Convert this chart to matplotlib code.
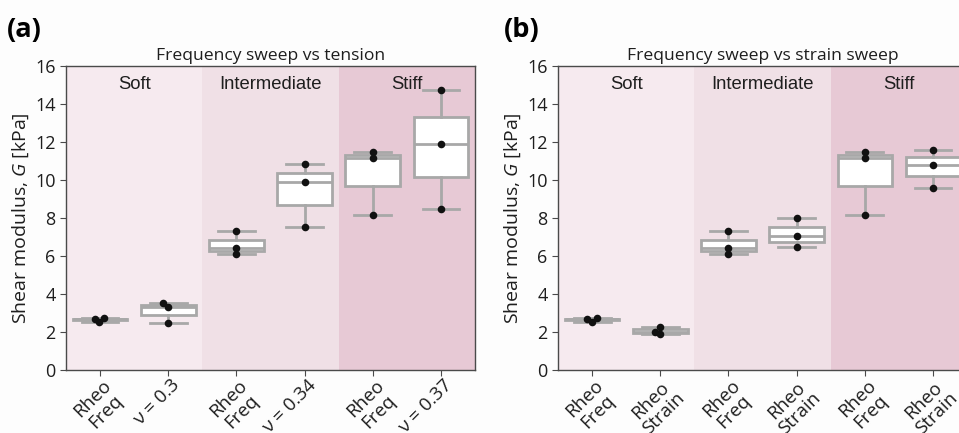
import numpy as np
import matplotlib
matplotlib.use("Agg")
import matplotlib.pyplot as plt
from matplotlib.transforms import ScaledTranslation

# ---------------------------------------------------------------------------
# Data — shear modulus G [kPa], three samples per group
# ---------------------------------------------------------------------------

REGIONS = ["Soft", "Intermediate", "Stiff"]

LABELS_A = ["Rheo\nFreq", "ν = 0.3", "Rheo\nFreq", "ν = 0.34", "Rheo\nFreq", "ν = 0.37"]
LABELS_B = ["Rheo\nFreq", "Rheo\nStrain", "Rheo\nFreq", "Rheo\nStrain", "Rheo\nFreq", "Rheo\nStrain"]

RHEO_FREQ_SOFT = [2.68, 2.55, 2.72]
RHEO_FREQ_INT = [7.30, 6.40, 6.09]
RHEO_FREQ_STIFF = [11.48, 11.17, 8.15]

TENSION_SOFT = [3.50, 3.30, 2.46]
TENSION_INT = [10.83, 9.88, 7.53]
TENSION_STIFF = [14.73, 11.88, 8.48]

STRAIN_SOFT = [2.02, 2.28, 1.87]
STRAIN_INT = [8.00, 7.07, 6.45]
STRAIN_STIFF = [11.58, 10.81, 9.58]

DATA_A = [RHEO_FREQ_SOFT, TENSION_SOFT, RHEO_FREQ_INT, TENSION_INT, RHEO_FREQ_STIFF, TENSION_STIFF]
DATA_B = [RHEO_FREQ_SOFT, STRAIN_SOFT, RHEO_FREQ_INT, STRAIN_INT, RHEO_FREQ_STIFF, STRAIN_STIFF]

# ---------------------------------------------------------------------------
# Style
# ---------------------------------------------------------------------------

plt.rcParams["font.family"] = ["Open Sans", "DejaVu Sans"]
plt.rcParams["mathtext.fontset"] = "custom"
plt.rcParams["mathtext.it"] = "Open Sans:italic"
plt.rcParams["mathtext.rm"] = "Open Sans"

BG = "#fdfdfd"
REGION_COLORS = ["#f6eaef", "#f0e0e6", "#e7c9d5"]
BOX_GREY = "#a8a8a8"
SPINE = "#4a4a4a"
TEXT = "#1e1e1e"

# small horizontal spread of the points (strip-plot look)
JITTER_A = [[-0.07, -0.01, 0.06], [-0.07, 0.0, 0.0], [0, 0, 0], [0, 0, 0], [0, 0, 0], [0, 0, 0]]
JITTER_B = [[-0.07, 0.0, 0.07], [-0.08, 0.0, 0.0], [0, 0, 0], [0, 0, 0], [0, 0, 0], [0, 0, 0]]

fig = plt.figure(figsize=(9.59, 4.33), dpi=100)
fig.patch.set_facecolor(BG)

ax_a = fig.add_axes([0.0688, 0.1455, 0.4265, 0.7021])
ax_b = fig.add_axes([0.5819, 0.1455, 0.4265, 0.7021])

# nudge the rotated tick labels to sit like the reference
label_shift = ScaledTranslation(0.02, 0.05, fig.dpi_scale_trans)


def draw_panel(ax, data, labels, jitter, title):
    x = np.arange(len(data))
    # region shading
    for i, (name, col) in enumerate(zip(REGIONS, REGION_COLORS)):
        ax.axvspan(2 * i - 0.5, 2 * i + 1.5, color=col, lw=0, zorder=0)
        ax.text(2 * i + 0.5, 15.0, name, ha="center", va="center",
                fontsize=13.3, family="Liberation Sans", color=TEXT, zorder=5)

    line_kw = dict(color=BOX_GREY, linewidth=2.0)
    ax.boxplot(data, positions=x, widths=0.8, capwidths=0.54, patch_artist=True,
               showfliers=False, whis=1.5,
               boxprops=dict(facecolor="white", edgecolor=BOX_GREY, linewidth=2.0),
               medianprops=line_kw, whiskerprops=line_kw, capprops=line_kw,
               zorder=2)

    for xi, vals, jit in zip(x, data, jitter):
        ax.scatter(xi + np.array(jit), vals, s=30, color="#111111", zorder=4,
                   linewidths=0)

    ax.set_xlim(-0.5, 5.5)
    ax.set_ylim(0, 16)
    ax.set_yticks(np.arange(0, 17, 2))
    ax.set_xticks(x)
    ax.tick_params(axis="y", labelsize=13, length=4, color=SPINE, labelcolor=TEXT)
    ax.tick_params(axis="x", length=4, color=SPINE, pad=4)
    ax.set_xticklabels(labels, rotation=45, ha="right", rotation_mode="anchor",
                       multialignment="center", linespacing=1.05,
                       fontsize=13.5, color=TEXT)
    for lab in ax.get_xticklabels():
        lab.set_transform(lab.get_transform() + label_shift)
    for sp in ax.spines.values():
        sp.set_color(SPINE)
        sp.set_linewidth(1.0)
    ax.set_ylabel("Shear modulus, $G$ [kPa]", fontsize=14, labelpad=3, color=TEXT)
    ax.set_title(title, fontsize=12.6, pad=4, color=TEXT)


draw_panel(ax_a, DATA_A, LABELS_A, JITTER_A, "Frequency sweep vs tension")
draw_panel(ax_b, DATA_B, LABELS_B, JITTER_B, "Frequency sweep vs strain sweep")

fig.text(0.007, 0.93, "(a)", fontsize=19.5, fontweight="bold", va="center", ha="left")
fig.text(0.525, 0.93, "(b)", fontsize=19.5, fontweight="bold", va="center", ha="left")

fig.savefig("out.png", dpi=100, facecolor=BG)
print("Saved → out.png")
